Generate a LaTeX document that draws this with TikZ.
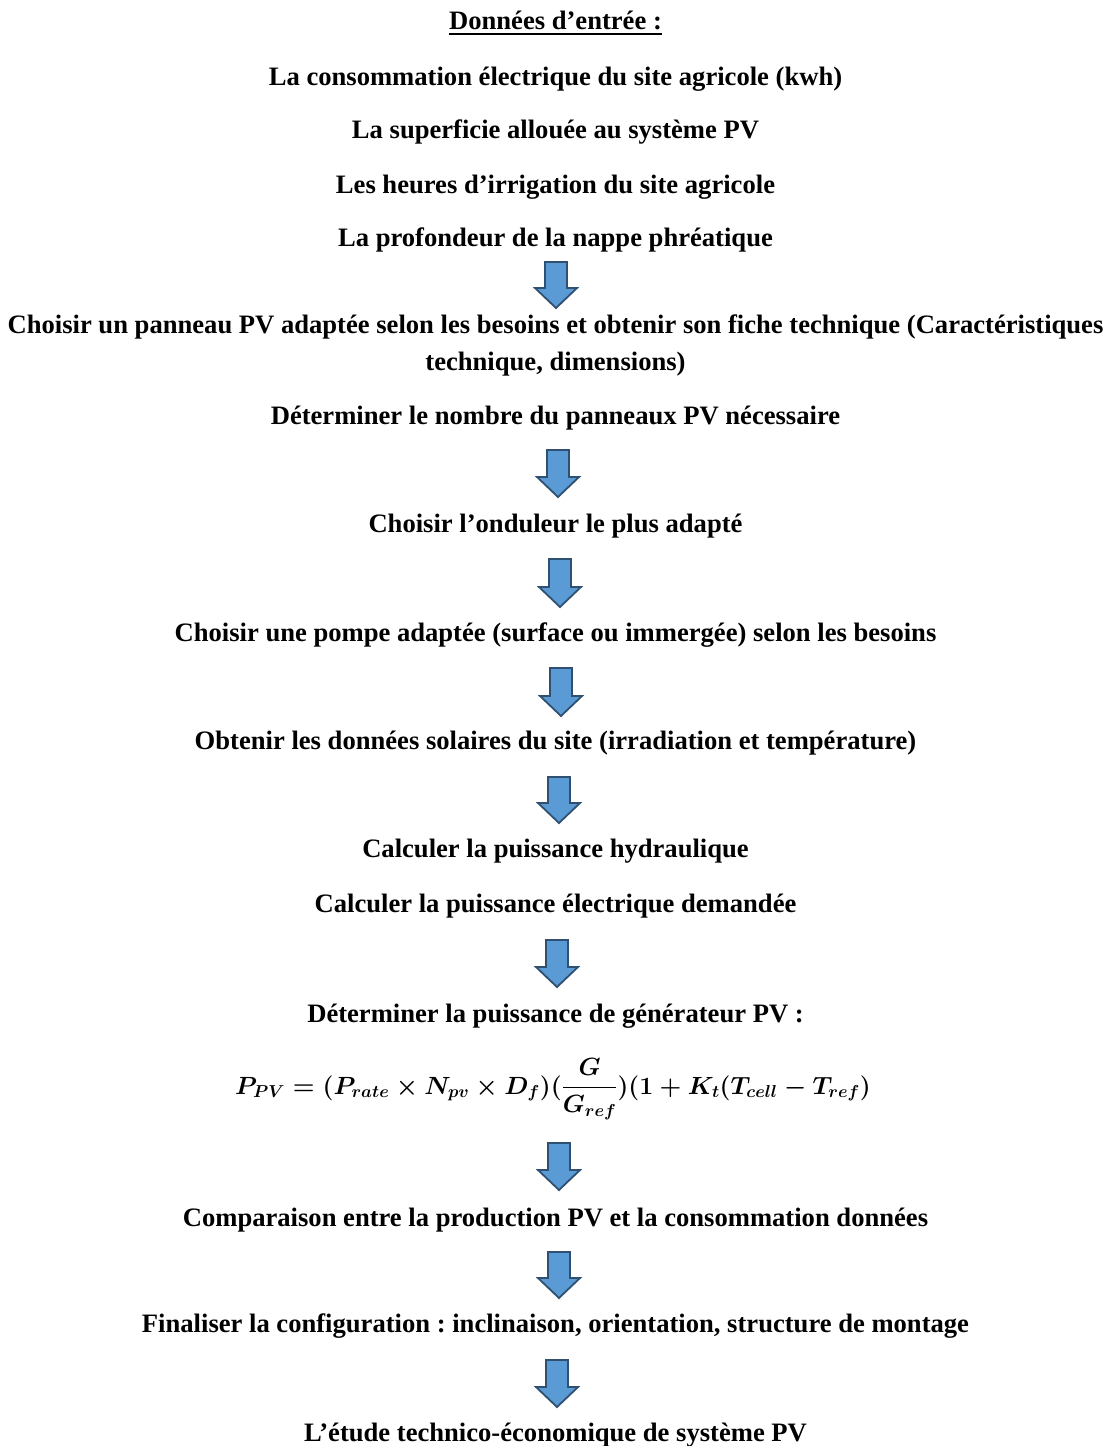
\documentclass[tikz,border=0pt]{standalone}
\usepackage{fontspec}
\setmainfont{Liberation Serif}
\usepackage{amsmath}
\frenchspacing
\definecolor{arrowblue}{HTML}{5B9BD5}
\definecolor{arrowedge}{HTML}{2F5070}
\newsavebox{\pvformbox}
\begin{document}
\sbox{\pvformbox}{\fontsize{26.8}{32}\selectfont\boldmath$P_{PV}=(P_{rate}\times N_{pv}\times D_{f})(\dfrac{G}{G_{ref}})(1+K_{t}(T_{cell}-T_{ref})$}%
\begin{tikzpicture}[x=1pt,y=-1pt,
  lbl/.style={font=\fontsize{26.6}{37}\selectfont\bfseries, inner sep=0pt, anchor=base, align=center},
  plain/.style={inner sep=0pt, anchor=base},
  blockarr/.style={fill=arrowblue, draw=arrowedge, line width=1.8pt, line join=miter}]
\useasboundingbox (0,0) rectangle (1111,1446);
\node[lbl] (title) at (555.5,29) {Données d’entrée :};
\draw[line width=2.5pt] ([yshift=-5pt]title.base west) -- ([yshift=-5pt]title.base east);
\node[lbl] (in1) at (555.5,85) {La consommation électrique du site agricole (kwh)};
\node[lbl] (in2) at (555.5,138) {La superficie allouée au système PV};
\node[lbl] (in3) at (555.5,193) {Les heures d’irrigation du site agricole};
\node[lbl] (in4) at (555.5,246) {La profondeur de la nappe phréatique};
\node[lbl] (s1) at (555.5,370) {Choisir un panneau PV adaptée selon les besoins et obtenir son fiche technique (Caractéristiques\\ technique, dimensions)};
\node[lbl] (s2) at (555.5,424) {Déterminer le nombre du panneaux PV nécessaire};
\node[lbl] (s3) at (555.5,532) {Choisir l’onduleur le plus adapté};
\node[lbl] (s4) at (555.5,641) {Choisir une pompe adaptée (surface ou immergée) selon les besoins};
\node[lbl] (s5) at (555.5,749) {Obtenir les données solaires du site (irradiation et température)};
\node[lbl] (s6) at (555.5,857) {Calculer la puissance hydraulique};
\node[lbl] (s7) at (555.5,912) {Calculer la puissance électrique demandée};
\node[lbl] (s8) at (555.5,1022) {Déterminer la puissance de générateur PV :};
\node[plain] (f) at (553,1094) {\usebox{\pvformbox}};
\node[lbl] (s9) at (555.5,1226) {Comparaison entre la production PV et la consommation données};
\node[lbl] (s10) at (555.5,1332) {Finaliser la configuration : inclinaison, orientation, structure de montage};
\node[lbl] (s11) at (555.5,1441) {L’étude technico-économique de système PV};
\foreach \n/\x/\t/\b in {a1/556/262/308, a2/558/450/497, a3/560/559/607, a4/561/668/716,
  a5/559/777/823, a6/557/940/987, a7/559/1143/1190, a8/559/1252/1298, a9/557/1360/1407}{
  \coordinate (\n) at (\x,\t);
  \draw[blockarr] ({\x-11},\t) -- ({\x+11},\t) -- ({\x+11},{\b-20}) -- ({\x+21},{\b-20})
    -- (\x,\b) -- ({\x-21},{\b-20}) -- ({\x-11},{\b-20}) -- cycle;
}
\end{tikzpicture}
\end{document}
